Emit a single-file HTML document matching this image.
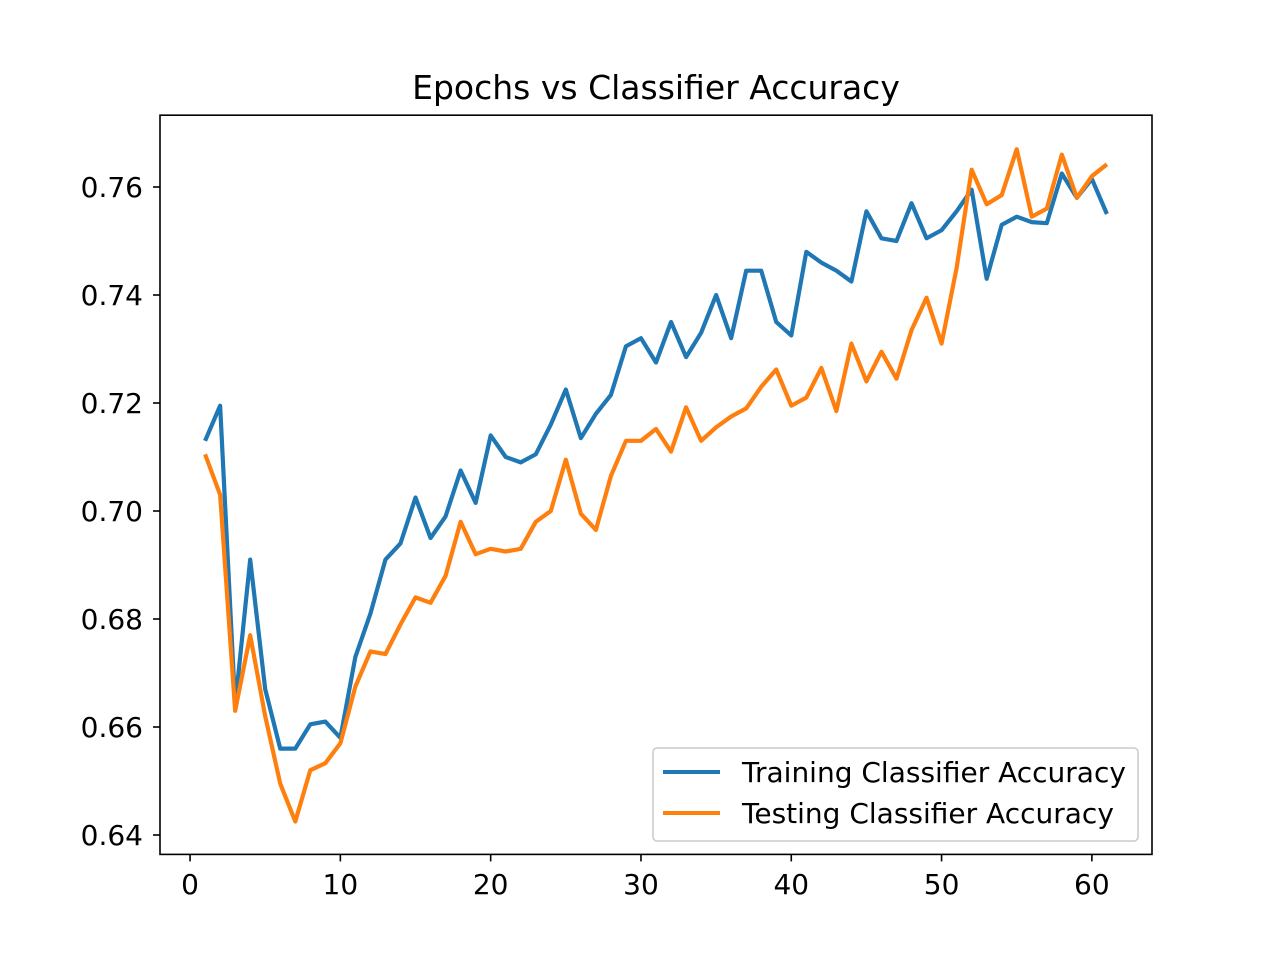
<!DOCTYPE html>
<html><head><meta charset="utf-8"><style>
html,body{margin:0;padding:0;background:#fff;}
svg{display:block;font-family:"DejaVu Sans","Liberation Sans",sans-serif;}
</style></head><body>
<svg id="chart" width="1280" height="960" viewBox="0 0 1280 960" xmlns="http://www.w3.org/2000/svg">
<rect width="1280" height="960" fill="#fff"/>
<text x="656" y="99" font-size="33" text-anchor="middle">Epochs vs Classifier Accuracy</text>
<g id="ticks"></g>
<g id="series"></g>
<rect x="160" y="115.2" width="992" height="739.2" fill="none" stroke="#000" stroke-width="1.6"/>
<g>
<rect x="653" y="748" width="485" height="93" rx="4" fill="#fff" fill-opacity="0.8" stroke="#ccc" stroke-width="1.6"/>
<line x1="663" y1="772" x2="720" y2="772" stroke="#1f77b4" stroke-width="4"/>
<text x="742" y="782" font-size="28">Training Classifier Accuracy</text>
<line x1="663" y1="813" x2="720" y2="813" stroke="#ff7f0e" stroke-width="4"/>
<text x="742" y="823" font-size="28">Testing Classifier Accuracy</text>
</g>
</svg>
<script>
const training = [0.713,0.7195,0.664,0.691,0.667,0.656,0.656,0.6605,0.661,0.658,0.673,0.681,0.691,0.694,0.7025,0.695,0.699,0.7075,0.7015,0.714,0.710,0.709,0.7105,0.716,0.7225,0.7135,0.718,0.7215,0.7305,0.732,0.7275,0.735,0.7285,0.733,0.740,0.732,0.7445,0.7445,0.735,0.7325,0.748,0.746,0.7445,0.7425,0.7555,0.7505,0.750,0.757,0.7505,0.752,0.7555,0.7595,0.743,0.753,0.7545,0.7535,0.7533,0.7625,0.758,0.7615,0.755];
const testing = [0.7105,0.703,0.663,0.677,0.662,0.6495,0.6425,0.652,0.6533,0.657,0.6675,0.674,0.6735,0.679,0.684,0.683,0.688,0.698,0.692,0.693,0.6925,0.693,0.698,0.700,0.7095,0.6995,0.6965,0.7065,0.713,0.713,0.7152,0.711,0.7192,0.713,0.7155,0.7175,0.719,0.723,0.7262,0.7195,0.721,0.7265,0.7185,0.731,0.724,0.7295,0.7245,0.7335,0.7395,0.731,0.745,0.7632,0.7568,0.7585,0.767,0.7545,0.756,0.766,0.758,0.762,0.7642];
const xTicks = [0,10,20,30,40,50,60];
const yTicks = [0.64,0.66,0.68,0.70,0.72,0.74,0.76];

const NS = "http://www.w3.org/2000/svg";
const X = v => 160 + (v + 2) * (992 / 66);
const Y = v => 835 - (v - 0.64) * 5400;

const tg = document.getElementById('ticks');
xTicks.forEach(t => {
  const l = document.createElementNS(NS, 'line');
  
  
  l.setAttribute('x1', X(t)); l.setAttribute('x2', X(t));
  l.setAttribute('y1', 854.4); l.setAttribute('y2', 861.4);
  l.setAttribute('stroke', '#000'); l.setAttribute('stroke-width', '1.6');
  tg.appendChild(l);
  const tx = document.createElementNS(NS, 'text');
  
  
  tx.setAttribute('x', X(t)); tx.setAttribute('y', 894);
  tx.setAttribute('font-size', '28'); tx.setAttribute('text-anchor', 'middle');
  tx.textContent = t;
  tg.appendChild(tx);
});
yTicks.forEach(t => {
  const l = document.createElementNS(NS, 'line');
  
  
  l.setAttribute('x1', 153); l.setAttribute('x2', 160);
  l.setAttribute('y1', Y(t)); l.setAttribute('y2', Y(t));
  l.setAttribute('stroke', '#000'); l.setAttribute('stroke-width', '1.6');
  tg.appendChild(l);
  const tx = document.createElementNS(NS, 'text');
  
  
  tx.setAttribute('x', 143); tx.setAttribute('y', Y(t) + 10);
  tx.setAttribute('font-size', '28'); tx.setAttribute('text-anchor', 'end');
  tx.textContent = t.toFixed(2);
  tg.appendChild(tx);
});

const sg = document.getElementById('series');
function drawLine(vals, color, name) {
  const p = document.createElementNS(NS, 'polyline');
  
  
  p.setAttribute('points', vals.map((v, i) => X(i + 1) + ',' + Y(v)).join(' '));
  p.setAttribute('fill', 'none'); p.setAttribute('stroke', color);
  p.setAttribute('stroke-width', '4.2'); p.setAttribute('stroke-linejoin', 'round');
  sg.appendChild(p);
}
drawLine(training, '#1f77b4', 'training-line');
drawLine(testing, '#ff7f0e', 'testing-line');
</script>
</body></html>
